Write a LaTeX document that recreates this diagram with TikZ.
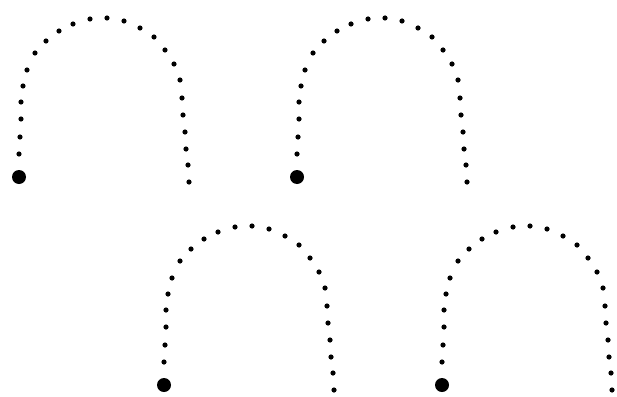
\documentclass[tikz,border=0pt]{standalone}
\tikzset{
  smalldot/.style={fill=black},
  bigdot/.style={fill=black},
  pics/arch/.style={code={
    \foreach \px/\py in {20/154, 21/137, 22/119, 22/102, 24/86, 28/70, 36/53, 47/41, 60/31, 74/24, 91/19, 108/18, 125/21, 141/28, 155/37, 166/50, 175/64, 181/80, 183/98, 184/115, 186/132, 187/149, 189/165, 190/182}
      \fill[smalldot] (\px,\py) circle (2.6);
    \fill[bigdot] (20,177) circle (7);
  }}
}
\begin{document}
\begin{tikzpicture}[x=1pt,y=-1pt]
\useasboundingbox (0,0) rectangle (617,396);
\pic at (-1,0) {arch};
\pic at (277,0) {arch};
\pic at (144,208) {arch};
\pic at (422,208) {arch};
\end{tikzpicture}
\end{document}
